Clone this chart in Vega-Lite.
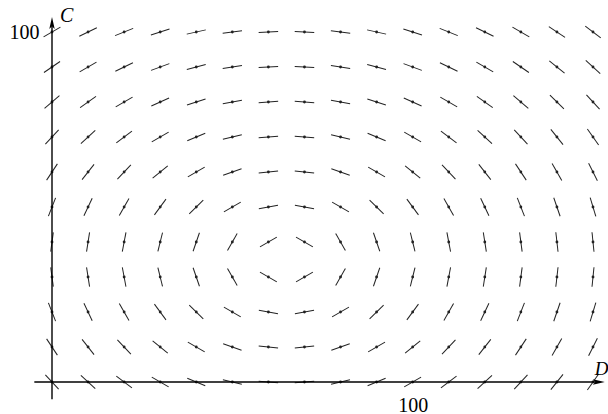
{
  "$schema": "https://vega.github.io/schema/vega-lite/v6.json",
  "width": 541,
  "height": 350,
  "autosize": "none",
  "padding": {"left": 52, "top": 32, "right": 15, "bottom": 32},
  "background": "white",
  "config": {"view": {"stroke": null}, "font": "Liberation Serif"},
  "resolve": {"axis": {"x": "independent", "y": "independent"}},
  "datasets": {
    "field": [
      {"D":0,"C":100,"a":-30.2},{"D":10,"C":100,"a":-26.2},{"D":20,"C":100,"a":-21.9},{"D":30,"C":100,"a":-17.4},{"D":40,"C":100,"a":-12.6},{"D":50,"C":100,"a":-7.6},{"D":60,"C":100,"a":-2.6},{"D":70,"C":100,"a":2.6},{"D":80,"C":100,"a":7.6},{"D":90,"C":100,"a":12.6},{"D":100,"C":100,"a":17.4},{"D":110,"C":100,"a":21.9},{"D":120,"C":100,"a":26.2},{"D":130,"C":100,"a":30.2},{"D":140,"C":100,"a":33.9},{"D":150,"C":100,"a":37.3},
      {"D":0,"C":90,"a":-34.5},{"D":10,"C":90,"a":-30.2},{"D":20,"C":90,"a":-25.5},{"D":30,"C":90,"a":-20.3},{"D":40,"C":90,"a":-14.8},{"D":50,"C":90,"a":-9.0},{"D":60,"C":90,"a":-3.0},{"D":70,"C":90,"a":3.0},{"D":80,"C":90,"a":9.0},{"D":90,"C":90,"a":14.8},{"D":100,"C":90,"a":20.3},{"D":110,"C":90,"a":25.5},{"D":120,"C":90,"a":30.2},{"D":130,"C":90,"a":34.5},{"D":140,"C":90,"a":38.4},{"D":150,"C":90,"a":42.0},
      {"D":0,"C":80,"a":-40.1},{"D":10,"C":80,"a":-35.4},{"D":20,"C":80,"a":-30.2},{"D":30,"C":80,"a":-24.4},{"D":40,"C":80,"a":-17.9},{"D":50,"C":80,"a":-11.0},{"D":60,"C":80,"a":-3.7},{"D":70,"C":80,"a":3.7},{"D":80,"C":80,"a":11.0},{"D":90,"C":80,"a":17.9},{"D":100,"C":80,"a":24.4},{"D":110,"C":80,"a":30.2},{"D":120,"C":80,"a":35.4},{"D":130,"C":80,"a":40.1},{"D":140,"C":80,"a":44.1},{"D":150,"C":80,"a":47.7},
      {"D":0,"C":70,"a":-47.2},{"D":10,"C":70,"a":-42.4},{"D":20,"C":70,"a":-36.8},{"D":30,"C":70,"a":-30.2},{"D":40,"C":70,"a":-22.6},{"D":50,"C":70,"a":-14.0},{"D":60,"C":70,"a":-4.75},{"D":70,"C":70,"a":4.75},{"D":80,"C":70,"a":14.0},{"D":90,"C":70,"a":22.6},{"D":100,"C":70,"a":30.2},{"D":110,"C":70,"a":36.8},{"D":120,"C":70,"a":42.4},{"D":130,"C":70,"a":47.2},{"D":140,"C":70,"a":51.3},{"D":150,"C":70,"a":54.7},
      {"D":0,"C":60,"a":-56.5},{"D":10,"C":60,"a":-52.0},{"D":20,"C":60,"a":-46.3},{"D":30,"C":60,"a":-39.2},{"D":40,"C":60,"a":-30.2},{"D":50,"C":60,"a":-19.3},{"D":60,"C":60,"a":-6.6},{"D":70,"C":60,"a":6.6},{"D":80,"C":60,"a":19.3},{"D":90,"C":60,"a":30.2},{"D":100,"C":60,"a":39.2},{"D":110,"C":60,"a":46.3},{"D":120,"C":60,"a":52.0},{"D":130,"C":60,"a":56.5},{"D":140,"C":60,"a":60.2},{"D":150,"C":60,"a":63.2},
      {"D":0,"C":50,"a":-68.4},{"D":10,"C":50,"a":-64.9},{"D":20,"C":50,"a":-60.2},{"D":30,"C":50,"a":-53.6},{"D":40,"C":50,"a":-44.1},{"D":50,"C":50,"a":-30.2},{"D":60,"C":50,"a":-11.0},{"D":70,"C":50,"a":11.0},{"D":80,"C":50,"a":30.2},{"D":90,"C":50,"a":44.1},{"D":100,"C":50,"a":53.6},{"D":110,"C":50,"a":60.2},{"D":120,"C":50,"a":64.9},{"D":130,"C":50,"a":68.4},{"D":140,"C":50,"a":71.0},{"D":150,"C":50,"a":73.1},
      {"D":0,"C":40,"a":-82.5},{"D":10,"C":40,"a":-81.1},{"D":20,"C":40,"a":-79.2},{"D":30,"C":40,"a":-76.2},{"D":40,"C":40,"a":-71.0},{"D":50,"C":40,"a":-60.2},{"D":60,"C":40,"a":-30.2},{"D":70,"C":40,"a":30.2},{"D":80,"C":40,"a":60.2},{"D":90,"C":40,"a":71.0},{"D":100,"C":40,"a":76.2},{"D":110,"C":40,"a":79.2},{"D":120,"C":40,"a":81.1},{"D":130,"C":40,"a":82.5},{"D":140,"C":40,"a":83.5},{"D":150,"C":40,"a":84.2},
      {"D":0,"C":30,"a":82.5},{"D":10,"C":30,"a":81.1},{"D":20,"C":30,"a":79.2},{"D":30,"C":30,"a":76.2},{"D":40,"C":30,"a":71.0},{"D":50,"C":30,"a":60.2},{"D":60,"C":30,"a":30.2},{"D":70,"C":30,"a":-30.2},{"D":80,"C":30,"a":-60.2},{"D":90,"C":30,"a":-71.0},{"D":100,"C":30,"a":-76.2},{"D":110,"C":30,"a":-79.2},{"D":120,"C":30,"a":-81.1},{"D":130,"C":30,"a":-82.5},{"D":140,"C":30,"a":-83.5},{"D":150,"C":30,"a":-84.2},
      {"D":0,"C":20,"a":68.4},{"D":10,"C":20,"a":64.9},{"D":20,"C":20,"a":60.2},{"D":30,"C":20,"a":53.6},{"D":40,"C":20,"a":44.1},{"D":50,"C":20,"a":30.2},{"D":60,"C":20,"a":11.0},{"D":70,"C":20,"a":-11.0},{"D":80,"C":20,"a":-30.2},{"D":90,"C":20,"a":-44.1},{"D":100,"C":20,"a":-53.6},{"D":110,"C":20,"a":-60.2},{"D":120,"C":20,"a":-64.9},{"D":130,"C":20,"a":-68.4},{"D":140,"C":20,"a":-71.0},{"D":150,"C":20,"a":-73.1},
      {"D":0,"C":10,"a":56.5},{"D":10,"C":10,"a":52.0},{"D":20,"C":10,"a":46.3},{"D":30,"C":10,"a":39.2},{"D":40,"C":10,"a":30.2},{"D":50,"C":10,"a":19.3},{"D":60,"C":10,"a":6.6},{"D":70,"C":10,"a":-6.6},{"D":80,"C":10,"a":-19.3},{"D":90,"C":10,"a":-30.2},{"D":100,"C":10,"a":-39.2},{"D":110,"C":10,"a":-46.3},{"D":120,"C":10,"a":-52.0},{"D":130,"C":10,"a":-56.5},{"D":140,"C":10,"a":-60.2},{"D":150,"C":10,"a":-63.2},
      {"D":0,"C":0,"a":47.2},{"D":10,"C":0,"a":42.4},{"D":20,"C":0,"a":36.8},{"D":30,"C":0,"a":30.2},{"D":40,"C":0,"a":22.6},{"D":50,"C":0,"a":14.0},{"D":60,"C":0,"a":4.75},{"D":70,"C":0,"a":-4.75},{"D":80,"C":0,"a":-14.0},{"D":90,"C":0,"a":-22.6},{"D":100,"C":0,"a":-30.2},{"D":110,"C":0,"a":-36.8},{"D":120,"C":0,"a":-42.4},{"D":130,"C":0,"a":-47.2},{"D":140,"C":0,"a":-51.3},{"D":150,"C":0,"a":-54.7}
    ],
    "one": [{"k": 1}]
  },
  "layer": [
    {
      "data": {"name": "field"},
      "mark": {"type": "point", "shape": "M-1,0L1,0", "size": 380, "filled": false, "strokeWidth": 1, "color": "#222222", "opacity": 1},
      "encoding": {
        "x": {"field": "D", "type": "quantitative", "scale": {"domain": [0, 150], "nice": false, "zero": false},
              "axis": {"values": [100], "domain": false, "ticks": false, "tickSize": 0, "grid": false, "title": null, "labelFont": "Liberation Serif", "labelFontSize": 20, "labelColor": "black", "labelPadding": 13, "labelBaseline": "top", "labelOverlap": false, "labelBound": false, "labelFlush": false}},
        "y": {"field": "C", "type": "quantitative", "scale": {"domain": [0, 100], "nice": false, "zero": false},
              "axis": {"values": [100], "domain": false, "ticks": false, "tickSize": 0, "grid": false, "title": null, "labelFont": "Liberation Serif", "labelFontSize": 20, "labelColor": "black", "labelPadding": 13, "labelBaseline": "middle", "labelOverlap": false, "labelBound": false, "labelFlush": false}},
        "angle": {"field": "a", "type": "quantitative", "scale": null}
      }
    },
    {
      "data": {"name": "field"},
      "mark": {"type": "circle", "size": 8, "color": "#222222", "opacity": 1},
      "encoding": {
        "x": {"field": "D", "type": "quantitative", "scale": {"domain": [0, 150], "nice": false, "zero": false}, "axis": null},
        "y": {"field": "C", "type": "quantitative", "scale": {"domain": [0, 100], "nice": false, "zero": false}, "axis": null}
      }
    },
    {
      "data": {"name": "one"},
      "mark": {"type": "rule", "color": "black", "strokeWidth": 1.4},
      "encoding": {
        "x": {"datum": -4.9, "type": "quantitative", "scale": {"domain": [0, 150], "nice": false, "zero": false}, "axis": null},
        "x2": {"datum": 152},
        "y": {"datum": 0, "type": "quantitative", "scale": {"domain": [0, 100], "nice": false, "zero": false}, "axis": null}
      }
    },
    {
      "data": {"name": "one"},
      "mark": {"type": "rule", "color": "black", "strokeWidth": 1.4},
      "encoding": {
        "x": {"datum": 0, "type": "quantitative", "scale": {"domain": [0, 150], "nice": false, "zero": false}, "axis": null},
        "y": {"datum": -4.9, "type": "quantitative", "scale": {"domain": [0, 100], "nice": false, "zero": false}, "axis": null},
        "y2": {"datum": 102.5}
      }
    },
    {
      "data": {"name": "one"},
      "mark": {"type": "point", "shape": "M0,-1L0.45,1L0,0.55L-0.45,1Z", "size": 144, "filled": true, "color": "black", "opacity": 1},
      "encoding": {
        "x": {"datum": 0, "type": "quantitative", "scale": {"domain": [0, 150], "nice": false, "zero": false}, "axis": null},
        "y": {"datum": 102.6, "type": "quantitative", "scale": {"domain": [0, 100], "nice": false, "zero": false}, "axis": null}
      }
    },
    {
      "data": {"name": "one"},
      "mark": {"type": "point", "shape": "M1,0L-1,0.45L-0.55,0L-1,-0.45Z", "size": 144, "filled": true, "color": "black", "opacity": 1},
      "encoding": {
        "x": {"datum": 151.6, "type": "quantitative", "scale": {"domain": [0, 150], "nice": false, "zero": false}, "axis": null},
        "y": {"datum": 0, "type": "quantitative", "scale": {"domain": [0, 100], "nice": false, "zero": false}, "axis": null}
      }
    },
    {
      "data": {"name": "one"},
      "mark": {"type": "text", "text": "C", "font": "Liberation Serif", "fontStyle": "italic", "fontSize": 20, "align": "left", "baseline": "alphabetic", "color": "black"},
      "encoding": {
        "x": {"datum": 2.2, "type": "quantitative", "scale": {"domain": [0, 150], "nice": false, "zero": false}, "axis": null},
        "y": {"datum": 102.9, "type": "quantitative", "scale": {"domain": [0, 100], "nice": false, "zero": false}, "axis": null}
      }
    },
    {
      "data": {"name": "one"},
      "mark": {"type": "text", "text": "D", "font": "Liberation Serif", "fontStyle": "italic", "fontSize": 19, "align": "left", "baseline": "alphabetic", "color": "black"},
      "encoding": {
        "x": {"datum": 150.5, "type": "quantitative", "scale": {"domain": [0, 150], "nice": false, "zero": false}, "axis": null},
        "y": {"datum": 2.0, "type": "quantitative", "scale": {"domain": [0, 100], "nice": false, "zero": false}, "axis": null}
      }
    }
  ]
}
